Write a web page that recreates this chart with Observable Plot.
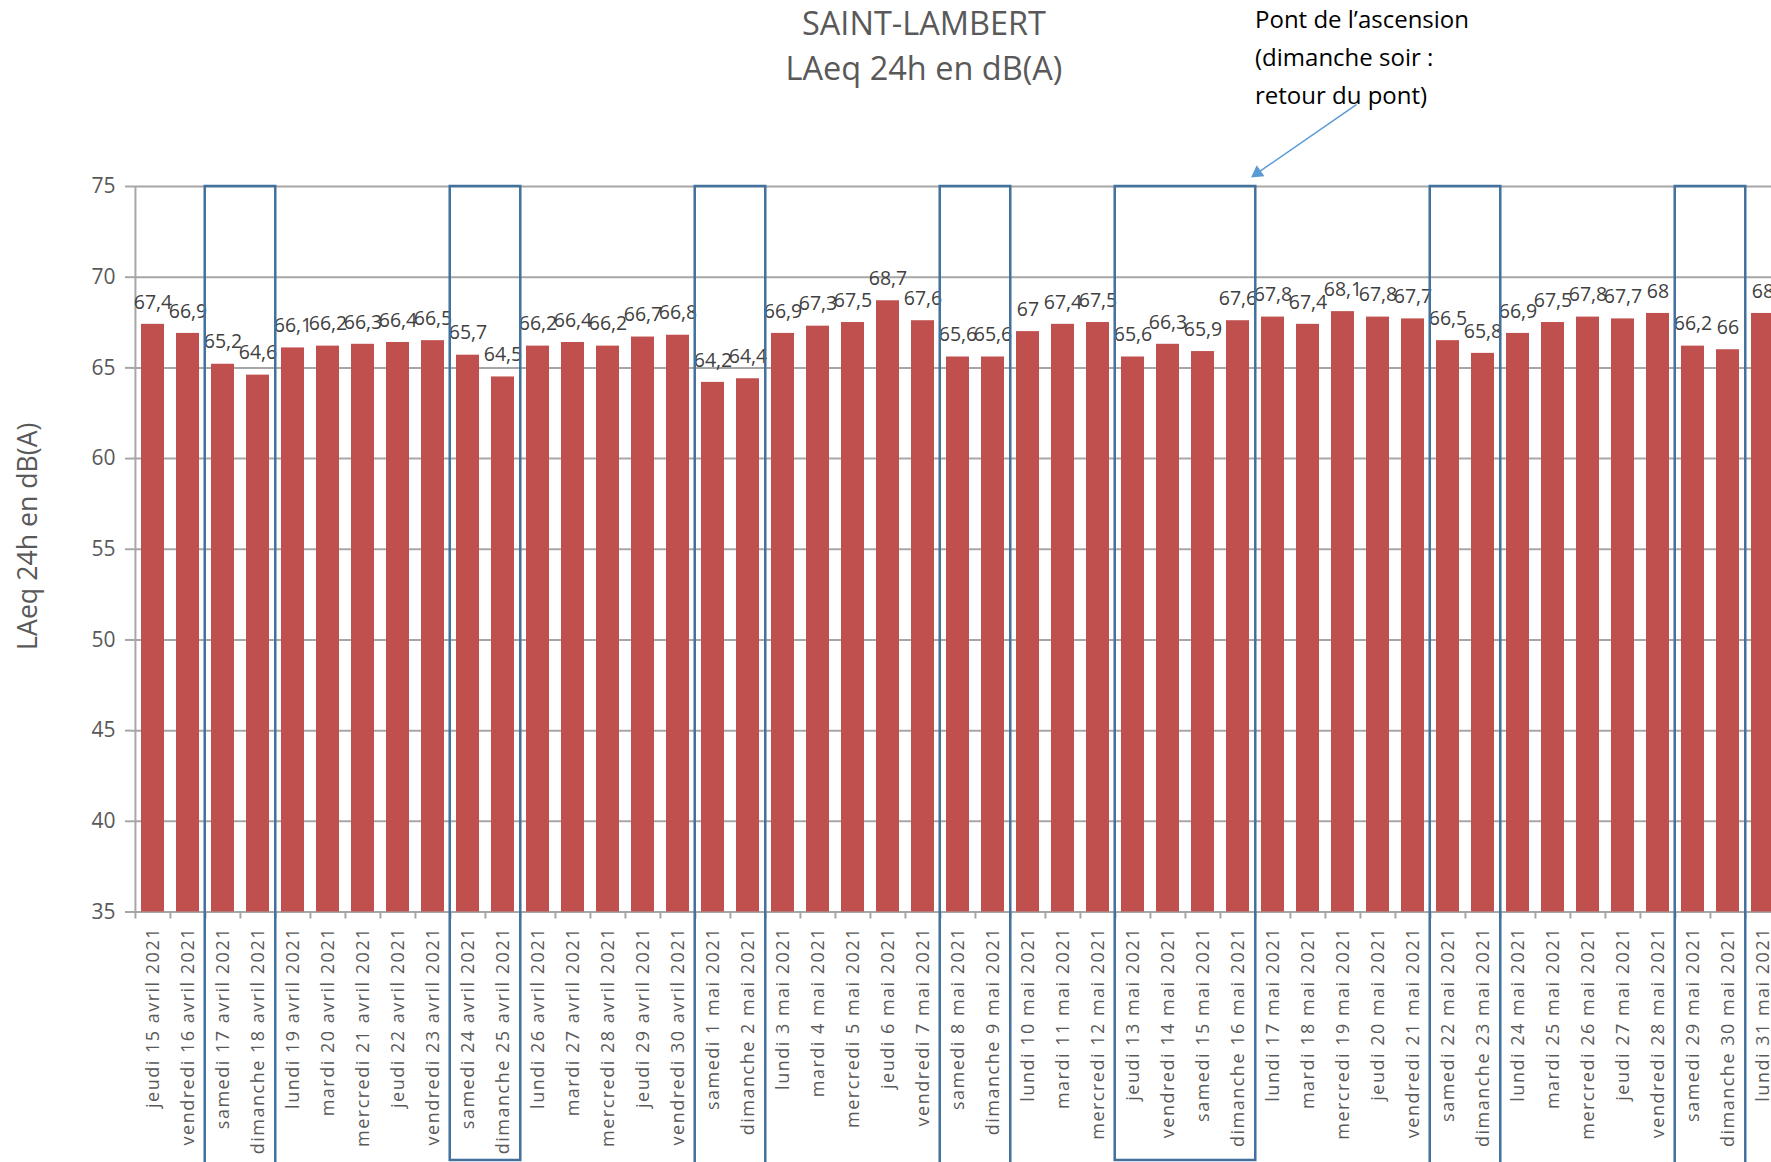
<!DOCTYPE html>
<html><head><meta charset="utf-8">
<script src="https://cdn.jsdelivr.net/npm/d3@7"></script>
<script src="https://cdn.jsdelivr.net/npm/@observablehq/plot@0.6"></script>
<style>
html,body{margin:0;padding:0;background:#fff;overflow:hidden;width:1771px;height:1162px}
#wrap{position:relative;width:1771px;height:1162px;overflow:hidden}
#title{position:absolute;left:724px;width:400px;top:0;text-align:center;font-family:"Open Sans";font-size:32.5px;line-height:45px;color:#595959}
#note{position:absolute;left:1255px;top:0;font-family:"Open Sans";font-size:24px;line-height:37.8px;color:#000}
#chart{position:absolute;left:0;top:0;width:1783px}
#chart svg{max-width:none !important}
g[aria-label="x-axis tick label"] text{letter-spacing:1.5px}
g[aria-label="data labels"] text{letter-spacing:1.1px}
</style></head><body>
<div id="wrap"><div id="chart"></div>
<div id="title">SAINT-LAMBERT<br>LAeq 24h en dB(A)</div>
<div id="note">Pont de l’ascension<br>(dimanche soir :<br>retour du pont)</div>
</div>
<script>
const days = [
"jeudi 15 avril 2021","vendredi 16 avril 2021","samedi 17 avril 2021","dimanche 18 avril 2021",
"lundi 19 avril 2021","mardi 20 avril 2021","mercredi 21 avril 2021","jeudi 22 avril 2021",
"vendredi 23 avril 2021","samedi 24 avril 2021","dimanche 25 avril 2021","lundi 26 avril 2021",
"mardi 27 avril 2021","mercredi 28 avril 2021","jeudi 29 avril 2021","vendredi 30 avril 2021",
"samedi 1 mai 2021","dimanche 2 mai 2021","lundi 3 mai 2021","mardi 4 mai 2021",
"mercredi 5 mai 2021","jeudi 6 mai 2021","vendredi 7 mai 2021","samedi 8 mai 2021",
"dimanche 9 mai 2021","lundi 10 mai 2021","mardi 11 mai 2021","mercredi 12 mai 2021",
"jeudi 13 mai 2021","vendredi 14 mai 2021","samedi 15 mai 2021","dimanche 16 mai 2021",
"lundi 17 mai 2021","mardi 18 mai 2021","mercredi 19 mai 2021","jeudi 20 mai 2021",
"vendredi 21 mai 2021","samedi 22 mai 2021","dimanche 23 mai 2021","lundi 24 mai 2021",
"mardi 25 mai 2021","mercredi 26 mai 2021","jeudi 27 mai 2021","vendredi 28 mai 2021",
"samedi 29 mai 2021","dimanche 30 mai 2021","lundi 31 mai 2021"];
const values = [
67.4,66.9,65.2,64.6,66.1,66.2,66.3,66.4,66.5,65.7,64.5,66.2,66.4,66.2,66.7,66.8,
64.2,64.4,66.9,67.3,67.5,68.7,67.6,65.6,65.6,67,67.4,67.5,65.6,66.3,65.9,67.6,
67.8,67.4,68.1,67.8,67.7,66.5,65.8,66.9,67.5,67.8,67.7,68,66.2,66,68];
const yTicks = [35,40,45,50,55,60,65,70,75];
const boxFirst = ["samedi 17 avril 2021","samedi 24 avril 2021","samedi 1 mai 2021","samedi 8 mai 2021","jeudi 13 mai 2021","samedi 22 mai 2021","samedi 29 mai 2021"];
const boxLast  = ["dimanche 18 avril 2021","dimanche 25 avril 2021","dimanche 2 mai 2021","dimanche 9 mai 2021","dimanche 16 mai 2021","dimanche 23 mai 2021","dimanche 30 mai 2021"];
const boxClosed = [false,true,false,false,true,false,false];
const noteFrom = {day: "mercredi 19 mai 2021", value: 79.5};
const noteTo = {day: "dimanche 16 mai 2021", value: 75.5};

const data = days.map((d, i) => ({day: d, value: values[i]}));
const boxes = boxFirst.map((f, i) => ({first: f, last: boxLast[i], closed: boxClosed[i]}));
const arrows = [{x1: noteFrom.day, y1: noteFrom.value, x2: noteTo.day, y2: noteTo.value}];

const W = 1783, ML = 132, MT = 186, H = 1162, MB = H - 911.5;
const pad = 0.357;
const step = (W - ML) / days.length;
const halfGap = step * pad / 2;
const grey = "#a6a6a6";
const blueArrow = "#5B9BD5";
const fmt = v => String(v).replace(".", ",");

const chart = Plot.plot({
  width: W, height: H,
  marginLeft: ML, marginRight: 0, marginTop: MT, marginBottom: MB,
  style: {fontFamily: "Open Sans", background: "transparent", overflow: "visible", maxWidth: "none"},
  x: {domain: days, paddingInner: pad, paddingOuter: pad / 2, label: null},
  y: {domain: [35, 75], label: null},
  marks: [
    Plot.gridY(yTicks, {stroke: grey, strokeOpacity: 1, strokeWidth: 2}),
    Plot.barY(data, {x: "day", y1: 35, y2: "value", fill: "#C0504D"}),
    Plot.ruleX([days[0]], {dx: -step / 2, y1: 35, y2: 75, stroke: grey, strokeWidth: 2}),
    Plot.ruleX(days, {x: d => d, dx: -step / 2, y1: 35, y2: 35, insetBottom: -7, stroke: grey, strokeWidth: 2}),
    Plot.axisY(yTicks, {tickSize: 7, tickPadding: 10, fontSize: 21, fill: "#595959", stroke: grey, strokeWidth: 2, label: null}),
    Plot.axisX({tickSize: 0, tickPadding: 15, tickRotate: -90, fontSize: 18, fill: "#595959", label: null}),
    Plot.text(data, {x: "day", y: "value", text: d => fmt(d.value), dy: -22, fontSize: 19.5, fill: "#404040", ariaLabel: "data labels"}),
    Plot.rect(boxes, {x1: "first", x2: "last", y1: 75, y2: d => d.closed ? 21.3 : 19.5,
      fill: "none", stroke: "#41719C", strokeWidth: 2.5, insetLeft: -halfGap, insetRight: -halfGap}),
    Plot.text(["LAeq 24h en dB(A)"], {frameAnchor: "left", textAnchor: "middle", rotate: -90, dx: -104, dy: -13, fontSize: 26.7, fill: "#595959"}),
    Plot.arrow(arrows, {x1: "x1", y1: "y1", x2: "x2", y2: "y2", dx: 13, stroke: blueArrow, strokeWidth: 1.5, headLength: 0, insetEnd: 9}),
    Plot.dot(arrows, {x: "x2", y: "y2", dx: 13 + 6.4, dy: -4.4, symbol: "triangle", r: 5, rotate: 235, fill: blueArrow, stroke: "none"})
  ]
});
document.getElementById("chart").appendChild(chart);
</script>
</body></html>
